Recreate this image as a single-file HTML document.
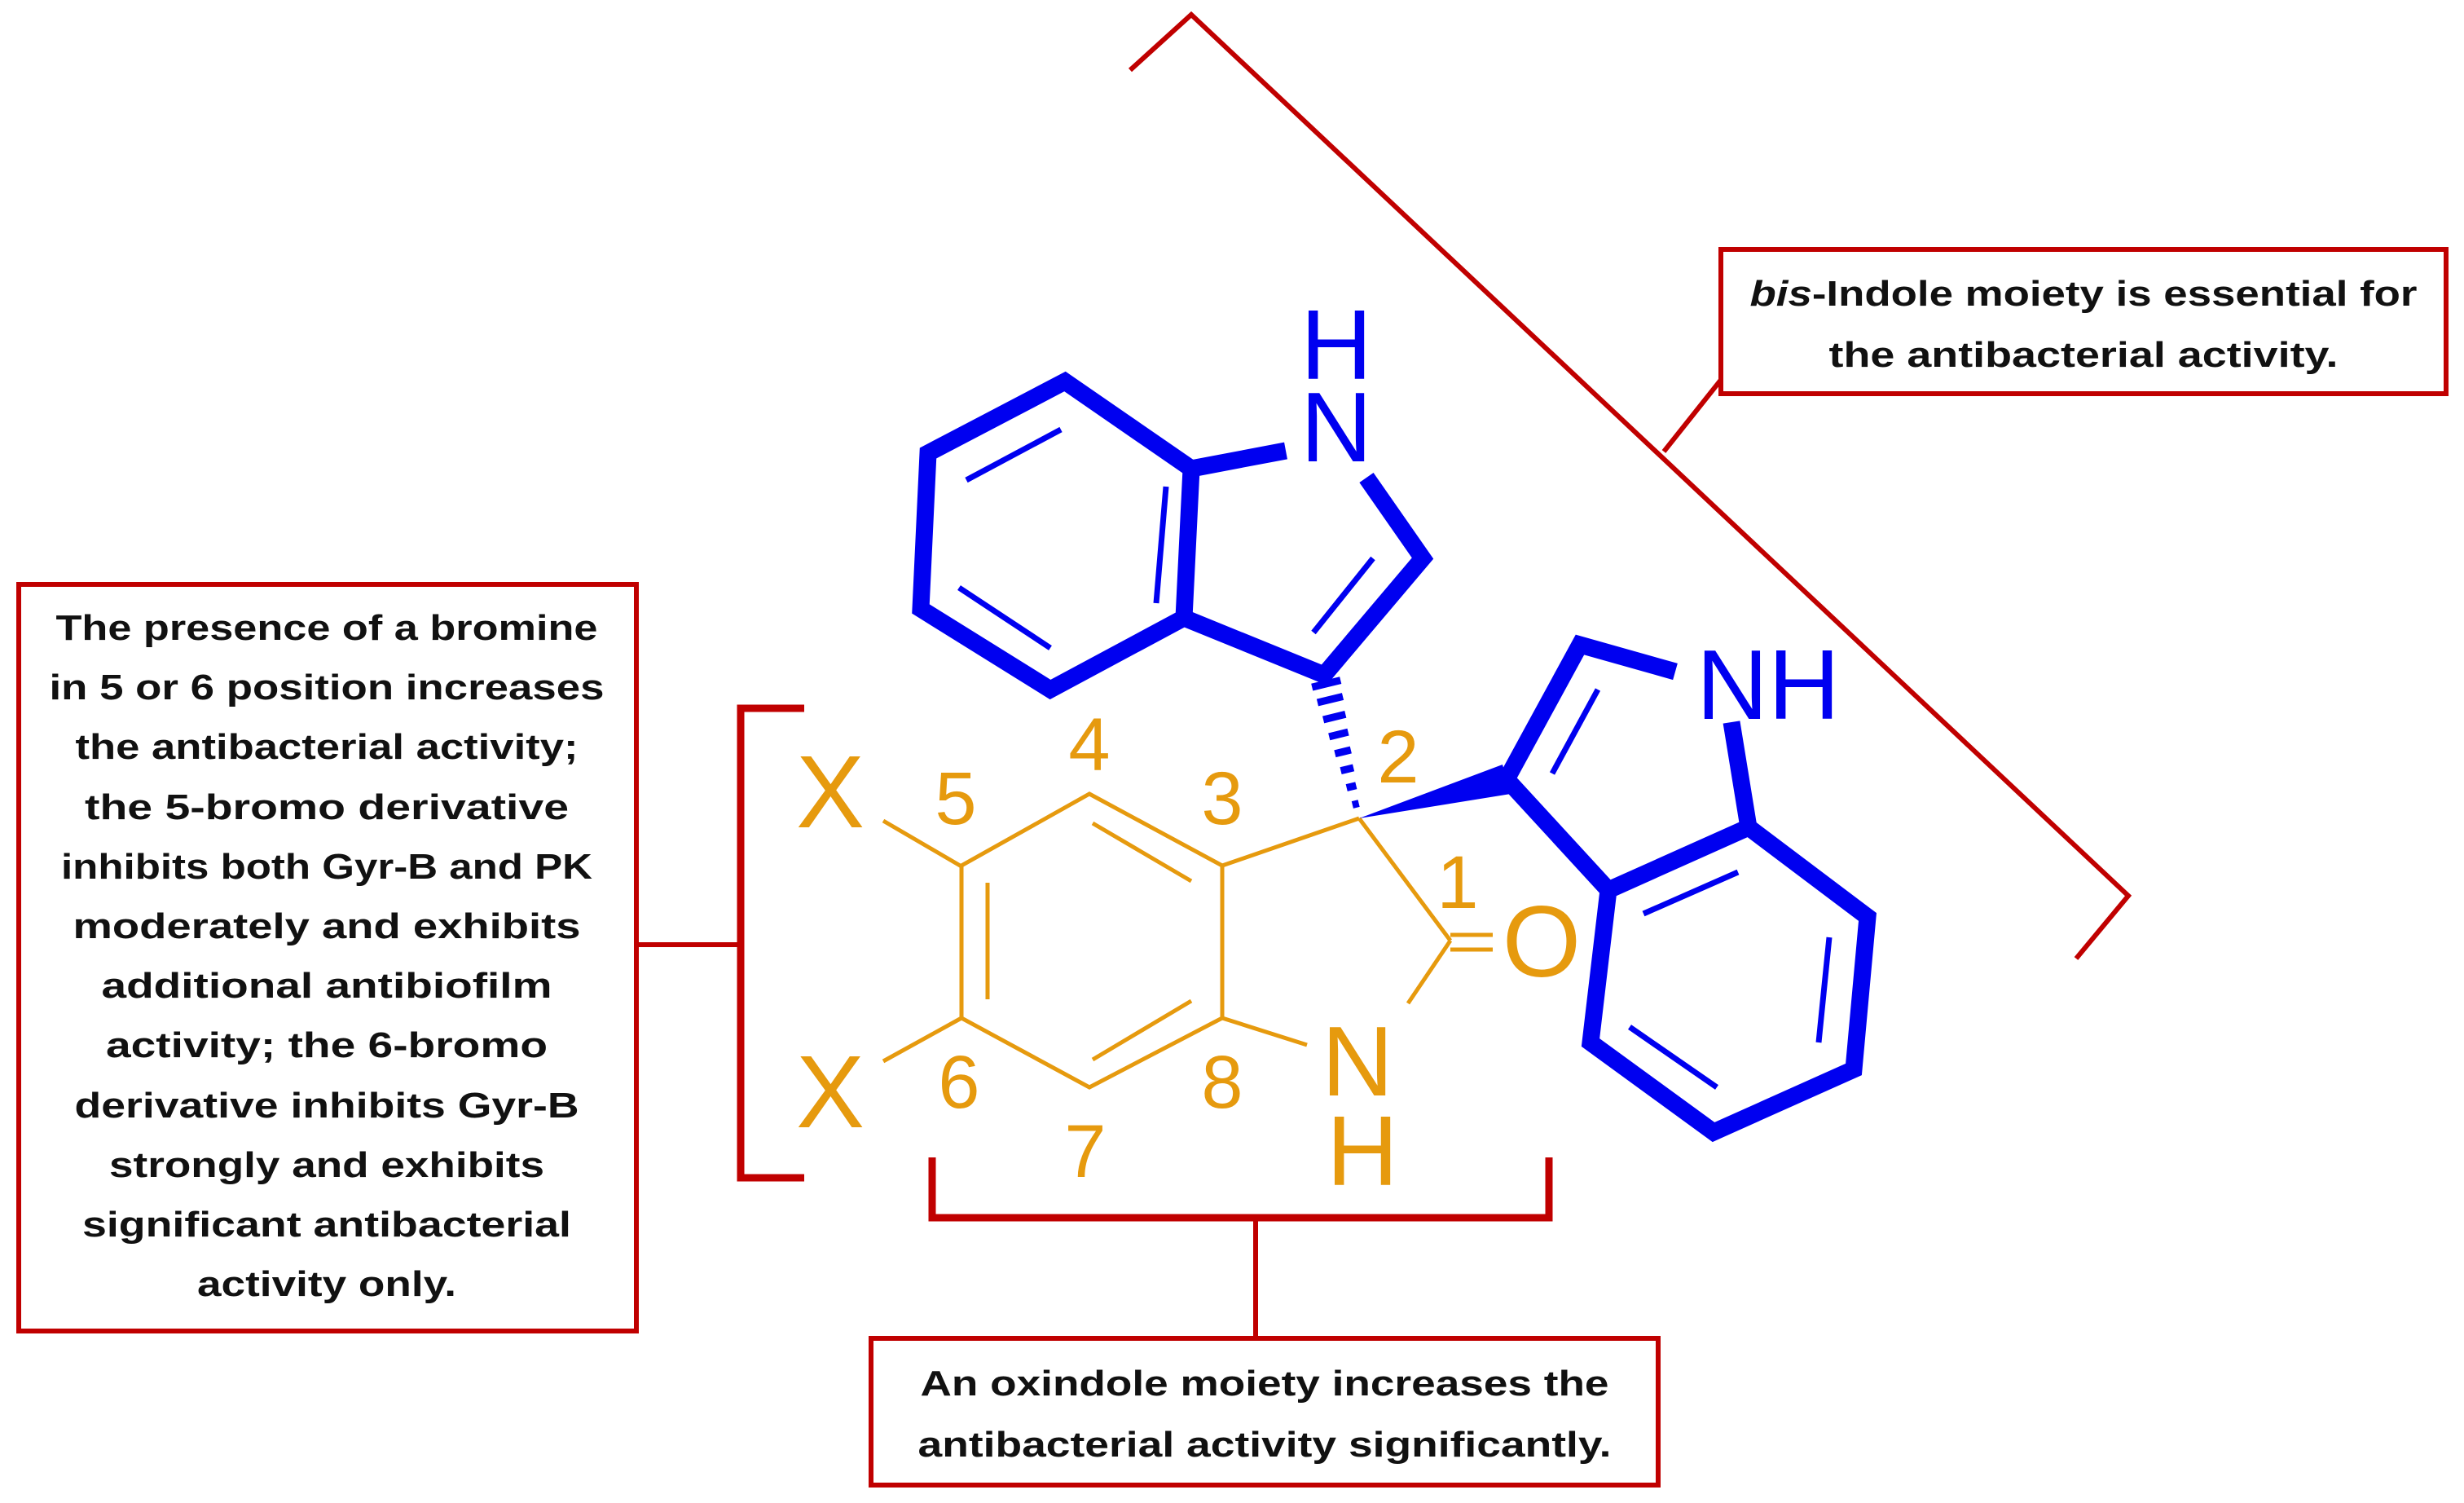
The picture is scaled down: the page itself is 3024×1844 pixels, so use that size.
<!DOCTYPE html>
<html><head><meta charset="utf-8"><style>
html,body{margin:0;padding:0;background:#fff;}
svg{display:block}
.t{font-family:"Liberation Sans",sans-serif;font-weight:bold;font-size:44px;fill:#111;}
.o{font-family:"Liberation Sans",sans-serif;fill:#E69A0E;}
.b{font-family:"Liberation Sans",sans-serif;fill:#0000F0;}
</style></head><body>
<svg width="3024" height="1844" viewBox="0 0 3024 1844" xmlns="http://www.w3.org/2000/svg">
<rect width="3024" height="1844" fill="#fff"/>
<g stroke="#C00000" stroke-width="6" fill="none" stroke-linejoin="miter">
  <polyline points="1387,86 1462,18 2612,1099 2548,1176"/>
  <line x1="2042" y1="554" x2="2112" y2="466"/>
  <rect x="2112" y="306" width="890" height="177"/>
  <rect x="23" y="717" width="758" height="916"/>
  <rect x="1069" y="1642" width="966" height="180"/>
  <line x1="781" y1="1159" x2="909" y2="1159"/>
  <line x1="1541" y1="1494" x2="1541" y2="1642"/>
</g>
<g stroke="#C00000" stroke-width="9" fill="none">
  <polyline points="987,869 909,869 909,1445 987,1445"/>
  <polyline points="1144,1420 1144,1494 1901,1494 1901,1420"/>
</g>

<text class="t" text-anchor="middle" x="2557" y="375" textLength="819" lengthAdjust="spacingAndGlyphs"><tspan font-style="italic">bis</tspan>-Indole moiety is essential for</text>
<text class="t" text-anchor="middle" x="2557" y="450" textLength="625" lengthAdjust="spacingAndGlyphs">the antibacterial activity.</text>

<text class="t" text-anchor="middle" x="1552" y="1712" textLength="845" lengthAdjust="spacingAndGlyphs">An oxindole moiety increases the</text>
<text class="t" text-anchor="middle" x="1552" y="1787" textLength="851" lengthAdjust="spacingAndGlyphs">antibacterial activity significantly.</text>

<g class="t" text-anchor="middle">
<text x="401" y="785" textLength="665" lengthAdjust="spacingAndGlyphs">The presence of a bromine</text>
<text x="401" y="858" textLength="681" lengthAdjust="spacingAndGlyphs">in 5 or 6 position increases</text>
<text x="401" y="931" textLength="617" lengthAdjust="spacingAndGlyphs">the antibacterial activity;</text>
<text x="401" y="1005" textLength="594" lengthAdjust="spacingAndGlyphs">the 5-bromo derivative</text>
<text x="401" y="1078" textLength="652" lengthAdjust="spacingAndGlyphs">inhibits both Gyr-B and PK</text>
<text x="401" y="1151" textLength="623" lengthAdjust="spacingAndGlyphs">moderately and exhibits</text>
<text x="401" y="1224" textLength="553" lengthAdjust="spacingAndGlyphs">additional antibiofilm</text>
<text x="401" y="1297" textLength="542" lengthAdjust="spacingAndGlyphs">activity; the 6-bromo</text>
<text x="401" y="1371" textLength="619" lengthAdjust="spacingAndGlyphs">derivative inhibits Gyr-B</text>
<text x="401" y="1444" textLength="534" lengthAdjust="spacingAndGlyphs">strongly and exhibits</text>
<text x="401" y="1517" textLength="600" lengthAdjust="spacingAndGlyphs">significant antibacterial</text>
<text x="401" y="1590" textLength="318" lengthAdjust="spacingAndGlyphs">activity only.</text>
</g>

<!-- orange oxindole -->
<g stroke="#E69A0E" stroke-width="5" fill="none" stroke-linecap="butt">
  <polygon points="1337,974 1500,1062 1500,1249 1337,1334 1180,1249 1180,1062"/>
  <line x1="1212" y1="1083" x2="1212" y2="1226"/>
  <line x1="1341" y1="1010" x2="1462" y2="1081"/>
  <line x1="1341" y1="1300" x2="1462" y2="1228"/>
  <line x1="1500" y1="1062" x2="1668" y2="1004"/>
  <line x1="1668" y1="1004" x2="1780" y2="1154"/>
  <line x1="1780" y1="1154" x2="1728" y2="1231"/>
  <line x1="1500" y1="1249" x2="1604" y2="1282"/>
  <line x1="1780" y1="1147" x2="1832" y2="1147"/>
  <line x1="1780" y1="1165" x2="1832" y2="1165"/>
  <line x1="1084" y1="1007" x2="1180" y2="1063"/>
  <line x1="1084" y1="1302" x2="1180" y2="1249"/>
</g>
<g class="o" text-anchor="middle">
  <text x="1019" y="1015" font-size="126">X</text>
  <text x="1019" y="1383" font-size="126">X</text>
  <text x="1892" y="1198" font-size="124">O</text>
  <text x="1666" y="1344" font-size="122">N</text>
  <text x="1672" y="1454" font-size="122">H</text>
  <g font-size="92">
    <text x="1337" y="945">4</text>
    <text x="1173" y="1011">5</text>
    <text x="1500" y="1011">3</text>
    <text x="1716" y="960">2</text>
    <text x="1789" y="1114">1</text>
    <text x="1177" y="1359">6</text>
    <text x="1500" y="1359">8</text>
    <text x="1332" y="1444">7</text>
  </g>
</g>

<!-- blue indoles -->
<g stroke="#0000F0" stroke-width="21" fill="none" stroke-linejoin="miter" stroke-linecap="butt">
  <polygon points="1307,468 1462,575 1453,758 1289,846 1130,747 1139,556"/>
  <polyline points="1462,575 1578,553"/>
  <polyline points="1677,586 1746,685 1625,828 1453,758"/>
  <polyline points="2056,824 1939,791 1849,956 1974,1092"/>
  <polyline points="2125,886 2146,1015"/>
  <polygon points="1974,1092 2146,1015 2292,1125 2275,1312 2103,1389 1952,1279"/>
</g>
<g stroke="#0000F0" stroke-width="7" fill="none">
  <line x1="1186" y1="589" x2="1302" y2="527"/>
  <line x1="1177" y1="721" x2="1289" y2="795"/>
  <line x1="1431" y1="597" x2="1419" y2="740"/>
  <line x1="1685" y1="685" x2="1612" y2="776"/>
  <line x1="1961" y1="846" x2="1905" y2="949"/>
  <line x1="2017" y1="1121" x2="2133" y2="1070"/>
  <line x1="2245" y1="1150" x2="2232" y2="1279"/>
  <line x1="2000" y1="1260" x2="2107" y2="1334"/>
</g>
<polygon points="1668,1004 1844,938 1854,974" fill="#0000F0"/>
<g transform="translate(1668,1004) rotate(-103.7)" stroke="#0000F0" stroke-width="9">
  <line x1="18" y1="-4" x2="18" y2="4"/>
  <line x1="40" y1="-6" x2="40" y2="6"/>
  <line x1="62" y1="-8" x2="62" y2="8"/>
  <line x1="84" y1="-10" x2="84" y2="10"/>
  <line x1="106" y1="-12" x2="106" y2="12"/>
  <line x1="128" y1="-14" x2="128" y2="14"/>
  <line x1="150" y1="-16" x2="150" y2="16"/>
  <line x1="170" y1="-18" x2="170" y2="18"/>
</g>
<g class="b" text-anchor="middle" font-size="122">
  <text x="1640" y="566">N</text>
  <text x="1640" y="465">H</text>
  <text x="2170" y="882">NH</text>
</g>
</svg>
</body></html>
